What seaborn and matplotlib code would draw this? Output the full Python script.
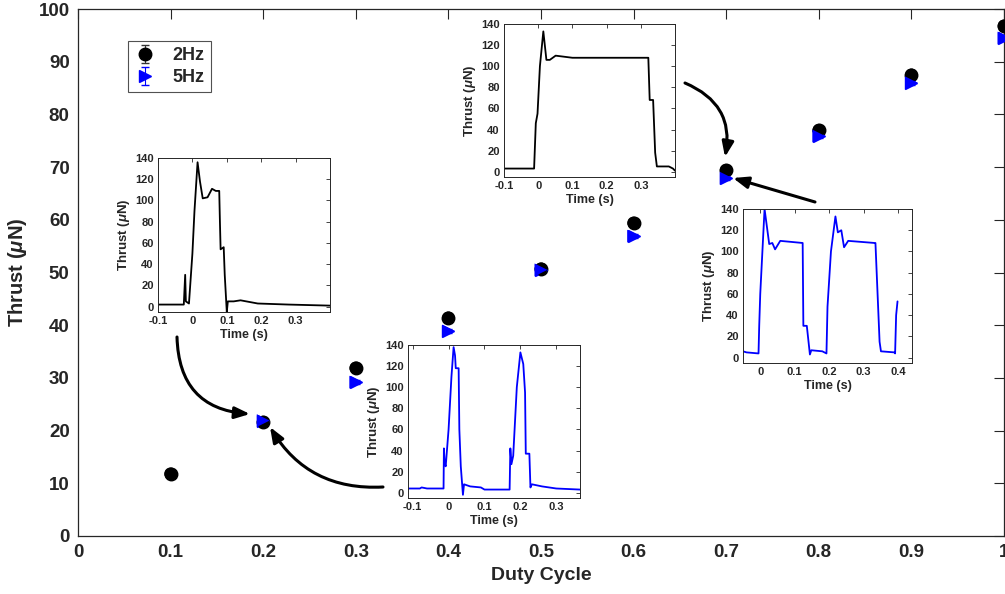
import numpy as np
import pandas as pd
import matplotlib
matplotlib.use("Agg")
import matplotlib.pyplot as plt
import seaborn as sns

# ---------------- data ----------------
duty = [0.1, 0.2, 0.3, 0.4, 0.5, 0.6, 0.7, 0.8, 0.9, 1.0]
thrust_2hz = [11.8, 21.6, 31.9, 41.4, 50.7, 59.4, 69.4, 77.0, 87.5, 96.8]
err_2hz = [0.7, 0.5, 0.5, 0.5, 0.5, 0.5, 0.5, 0.5, 0.5, 0.5]
thrust_5hz = [np.nan, 21.9, 29.2, 38.9, 50.5, 56.9, 67.9, 75.9, 86.0, 94.5]
err_5hz = [0.4, 0.4, 0.4, 0.4, 0.4, 0.4, 0.4, 0.4, 0.4, 0.4]
series_labels = ["2Hz", "5Hz"]

# inset traces (time s, thrust uN)
t_a = [-0.1, -0.06, -0.025, -0.021, -0.019, -0.01, 0.0, 0.006, 0.015, 0.022, 0.03, 0.044, 0.057,
       0.068, 0.078, 0.08, 0.082, 0.091, 0.094, 0.1, 0.103, 0.12, 0.14, 0.19, 0.28, 0.4]
y_a = [2, 2, 2, 30, 5, 3, 50, 90, 136, 118, 102, 103, 111, 109, 109, 80, 54, 56, 30, -5, 5, 5, 6, 3, 2, 1]

t_b = [-0.113, -0.08, -0.075, -0.06, -0.014, -0.013, -0.011, -0.008, 0.0, 0.008, 0.014, 0.018, 0.02,
       0.028, 0.03, 0.034, 0.04, 0.043, 0.06, 0.09, 0.1, 0.17, 0.172, 0.175, 0.18, 0.19, 0.2,
       0.208, 0.213, 0.215, 0.225, 0.228, 0.232, 0.26, 0.3, 0.366]
y_b = [4, 4, 5, 4, 4, 42, 28, 25, 60, 110, 138, 130, 118, 118, 60, 25, -2, 8, 6, 5, 3, 3, 42, 27,
       35, 100, 133, 122, 95, 37, 37, 5, 8, 6, 4, 3]

t_c = [-0.1, -0.012, -0.007, -0.002, 0.005, 0.015, 0.024, 0.034, 0.051, 0.1, 0.2, 0.322, 0.326,
       0.336, 0.342, 0.347, 0.382, 0.394, 0.4]
y_c = [3, 3, 46, 55, 100, 133, 106, 106, 110, 108, 108, 108, 68, 68, 18, 5, 5, 3, 1]

t_d = [-0.05, -0.04, -0.005, -0.003, 0.0, 0.0125, 0.026, 0.035, 0.043, 0.058, 0.123, 0.125, 0.135,
       0.144, 0.148, 0.18, 0.192, 0.195, 0.205, 0.218, 0.225, 0.235, 0.243, 0.255, 0.332, 0.334,
       0.346, 0.35, 0.389, 0.391, 0.394, 0.398]
y_d = [6, 5, 4, 30, 60, 140, 107, 108, 102, 110, 108, 30, 30, 3, 7, 6, 4, 48, 100, 133, 118, 120,
       104, 110, 108, 108, 15, 6, 5, 4, 40, 53]

main_xticks = [0, 0.1, 0.2, 0.3, 0.4, 0.5, 0.6, 0.7, 0.8, 0.9, 1.0]
main_xticklabels = ["0", "0.1", "0.2", "0.3", "0.4", "0.5", "0.6", "0.7", "0.8", "0.9", "1"]
main_yticks = [0, 10, 20, 30, 40, 50, 60, 70, 80, 90, 100]

# ---------------- style ----------------
sns.set_style("white")
plt.rcParams["font.family"] = ["Liberation Sans", "DejaVu Sans"]
plt.rcParams["font.weight"] = "bold"
plt.rcParams["mathtext.fontset"] = "custom"
plt.rcParams["mathtext.it"] = "Liberation Sans:italic:bold"
plt.rcParams["mathtext.rm"] = "Liberation Sans:bold"
GREY = "#262626"

fig = plt.figure(figsize=(10.05, 5.94), dpi=100)
ax = fig.add_axes([78 / 1005, 1 - 536 / 594, 926 / 1005, 527 / 594])

e1 = ax.errorbar(duty, thrust_2hz, yerr=err_2hz, fmt="o", color="black", ms=9,
                 ecolor="#333333", elinewidth=0.8, capsize=3, label=series_labels[0], zorder=3)
e2 = ax.errorbar(duty, thrust_5hz, yerr=err_5hz, fmt=">", color="blue", ms=9,
                 ecolor="blue", elinewidth=0.8, capsize=3, label=series_labels[1], zorder=4)
df = pd.DataFrame({"duty": duty * 2, "thrust": thrust_2hz + thrust_5hz,
                   "freq": [series_labels[0]] * 10 + [series_labels[1]] * 10})
sns.scatterplot(data=df, x="duty", y="thrust", hue="freq", style="freq",
                palette={"2Hz": "black", "5Hz": "blue"}, markers={"2Hz": "o", "5Hz": ">"},
                s=85, edgecolor="none", legend=False, ax=ax, zorder=5)

ax.set_xlim(0, 1)
ax.set_ylim(0, 100)
ax.set_xticks(main_xticks)
ax.set_xticklabels(main_xticklabels)
ax.set_yticks(main_yticks)
ax.tick_params(direction="in", length=7, width=0.8, top=True, right=True, labelsize=13.5,
               colors=GREY, pad=6)
for lab in ax.get_xticklabels() + ax.get_yticklabels():
    lab.set_fontweight("bold")
for s in ax.spines.values():
    s.set_visible(True)
    s.set_color(GREY)
    s.set_linewidth(0.9)
ax.set_xlabel("Duty Cycle", fontsize=14, fontweight="bold", color=GREY, labelpad=4)
ax.set_ylabel("Thrust ($\\mu$N)", fontsize=14.5, fontweight="bold", color=GREY, labelpad=7)

leg = ax.legend(handles=[e1, e2], labels=series_labels, loc="upper left",
                bbox_to_anchor=(0.054, 0.939), borderaxespad=0, fontsize=13, frameon=True,
                fancybox=False, handlelength=1.2, handletextpad=0.9, borderpad=0.35,
                labelspacing=0.25, markerscale=1.0)
leg.get_frame().set_edgecolor(GREY)
leg.get_frame().set_linewidth(0.8)
for t in leg.get_texts():
    t.set_fontweight("bold")

# arrows
def px2data(px, py):
    return ((px - 78) / 926, (536 - py) / 5.27)

arrow_kw = dict(arrowstyle="-|>,head_length=0.9,head_width=0.35", color="black", lw=2.2,
                shrinkA=0, shrinkB=0)
ax.annotate("", xy=px2data(250, 414), xytext=px2data(177, 337),
            arrowprops=dict(connectionstyle="arc3,rad=0.45", **arrow_kw), zorder=6)
ax.annotate("", xy=px2data(270, 427), xytext=px2data(383, 487),
            arrowprops=dict(connectionstyle="arc3,rad=-0.3", **arrow_kw), zorder=6)
ax.annotate("", xy=px2data(725, 157), xytext=px2data(685, 83),
            arrowprops=dict(connectionstyle="arc3,rad=-0.4", **arrow_kw), zorder=6)
ax.annotate("", xy=px2data(733, 178), xytext=px2data(815, 202),
            arrowprops=dict(connectionstyle="arc3,rad=0", **arrow_kw), zorder=6)

# insets
def inset(rect_px, t, y, color, xlim, xticks, xticklabels):
    l, r, tp, b = rect_px
    a = fig.add_axes([l / 1005, 1 - b / 594, (r - l) / 1005, (b - tp) / 594])
    sns.lineplot(x=t, y=y, sort=False, estimator=None, color=color, lw=1.3, ax=a)
    a.set_xlim(*xlim)
    a.set_ylim(-5, 140)
    a.set_xticks(xticks)
    a.set_xticklabels(xticklabels)
    a.set_yticks([0, 20, 40, 60, 80, 100, 120, 140])
    a.tick_params(direction="in", length=3, width=0.6, top=True, right=True, labelsize=8,
                  colors=GREY, pad=3)
    for lab in a.get_xticklabels() + a.get_yticklabels():
        lab.set_fontweight("bold")
    for s in a.spines.values():
        s.set_visible(True)
        s.set_color(GREY)
        s.set_linewidth(0.7)
    a.set_xlabel("Time (s)", fontsize=9, fontweight="bold", color=GREY, labelpad=2)
    a.set_ylabel("Thrust ($\\mu$N)", fontsize=9.5, fontweight="bold", color=GREY, labelpad=2)
    return a

inset((158, 330, 158, 312), t_a, y_a, "black", (-0.1, 0.4),
      [-0.1, 0, 0.1, 0.2, 0.3], ["-0.1", "0", "0.1", "0.2", "0.3"])
inset((408, 580, 345, 498), t_b, y_b, "blue", (-0.113, 0.366),
      [-0.1, 0, 0.1, 0.2, 0.3], ["-0.1", "0", "0.1", "0.2", "0.3"])
inset((504, 675, 24, 177), t_c, y_c, "black", (-0.1, 0.4),
      [-0.1, 0, 0.1, 0.2, 0.3], ["-0.1", "0", "0.1", "0.2", "0.3"])
inset((743, 912, 209, 363), t_d, y_d, "blue", (-0.05, 0.44),
      [0, 0.1, 0.2, 0.3, 0.4], ["0", "0.1", "0.2", "0.3", "0.4"])

fig.savefig("out.png", dpi=100)
